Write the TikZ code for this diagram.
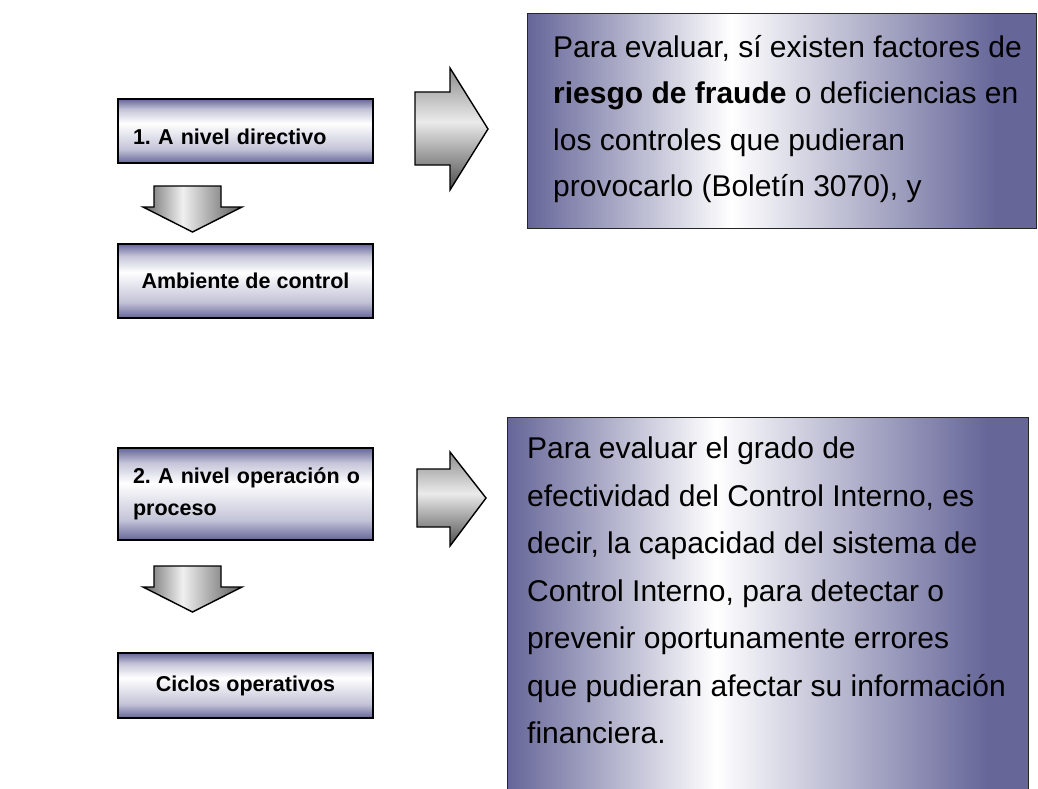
\documentclass[tikz,border=0pt]{standalone}
\usepackage{fontspec}
\setmainfont{Liberation Sans}
\frenchspacing
\definecolor{dkp}{RGB}{102,102,153}
\definecolor{lkp}{RGB}{196,196,216}
% TikZ maps the path's bounding box onto 25bp..75bp of a 100bp shading
\pgfdeclareverticalshading{boxshade}{100bp}{color(0bp)=(dkp); color(25bp)=(dkp); color(36bp)=(lkp); color(56bp)=(white); color(67bp)=(lkp); color(75bp)=(dkp); color(100bp)=(dkp)}
\pgfdeclarehorizontalshading{txtshade}{100bp}{color(0bp)=(dkp); color(25bp)=(dkp); color(45bp)=(white); color(71bp)=(dkp); color(100bp)=(dkp)}
\pgfdeclarehorizontalshading{downshade}{100bp}{color(0bp)=(black!60); color(25bp)=(black!60); color(45bp)=(black!6); color(75bp)=(black!65); color(100bp)=(black!65)}
\pgfdeclareverticalshading{rightshade}{100bp}{color(0bp)=(black!70); color(25bp)=(black!70); color(53bp)=(black!8); color(75bp)=(black!45); color(100bp)=(black!45)}
\tikzset{
  lbox/.style={draw=black, line width=1.6pt, shading=boxshade, font=\fontsize{21.5}{32}\selectfont\bfseries},
  lefttext/.style={text width=225pt, align=left, inner xsep=15pt},
  tbox/.style={draw=black!85, line width=1.4pt, shading=txtshade, anchor=north west, inner sep=0pt},
  txt/.style={font=\fontsize{30}{47}\selectfont, align=left, anchor=north west, inner sep=0pt},
  blockarrow/.style={draw=black, line width=1.4pt, line join=miter}
}
\begin{document}
\begin{tikzpicture}[x=1pt,y=-1pt]
\useasboundingbox (0,0) rectangle (1038,789);
\clip (0,0) rectangle (1038,789);

% left column, part 1
\node[lbox, lefttext, minimum height=64pt, text height=30pt, text depth=3pt] (n1) at (245.5,131) {1. A nivel directivo};
\path[blockarrow, shading=downshade]
  (154,186) -- (221,186) -- (221,207) -- (242,207) -- (192.5,232) -- (143,207) -- (154,207) -- cycle;
\node[lbox, minimum width=255pt, minimum height=74pt] (amb) at (245.5,281) {Ambiente de control};

% right arrow 1
\path[blockarrow, shading=rightshade]
  (415,92) -- (450,92) -- (450,68) -- (488,129) -- (450,190) -- (450,165) -- (415,165) -- cycle;

% text box 1
\node[tbox, minimum width=509pt, minimum height=215pt] (t1) at (527,13) {};
\node[txt, font=\fontsize{30}{46.5}\selectfont] (t1txt) at (553,35) {Para evaluar, sí existen factores de\\
\textbf{riesgo de fraude} o deficiencias en\\
los controles que pudieran\\
provocarlo (Boletín 3070), y};

% left column, part 2
\node[lbox, lefttext, minimum height=92pt] (n2) at (245.5,494) {\mbox{2. A nivel operación o}\\proceso};
\path[blockarrow, shading=downshade]
  (154,566) -- (221,566) -- (221,587) -- (242,587) -- (192.5,612) -- (143,587) -- (154,587) -- cycle;
\node[lbox, minimum width=255pt, minimum height=65pt] (cic) at (245.5,685.5) {Ciclos operativos};

% right arrow 2
\path[blockarrow, shading=rightshade]
  (417,469) -- (450,469) -- (450,452) -- (486,498) -- (450,546) -- (450,527) -- (417,527) -- cycle;

% text box 2
\node[tbox, minimum width=521pt, minimum height=400pt] (t2) at (507,417) {};
\node[txt, font=\fontsize{30}{47.5}\selectfont] (t2txt) at (527,437) {Para evaluar el grado de\\
efectividad del Control Interno, es\\
decir, la capacidad del sistema de\\
Control Interno, para detectar o\\
prevenir oportunamente errores\\
que pudieran afectar su información\\
financiera.};
\end{tikzpicture}
\end{document}
